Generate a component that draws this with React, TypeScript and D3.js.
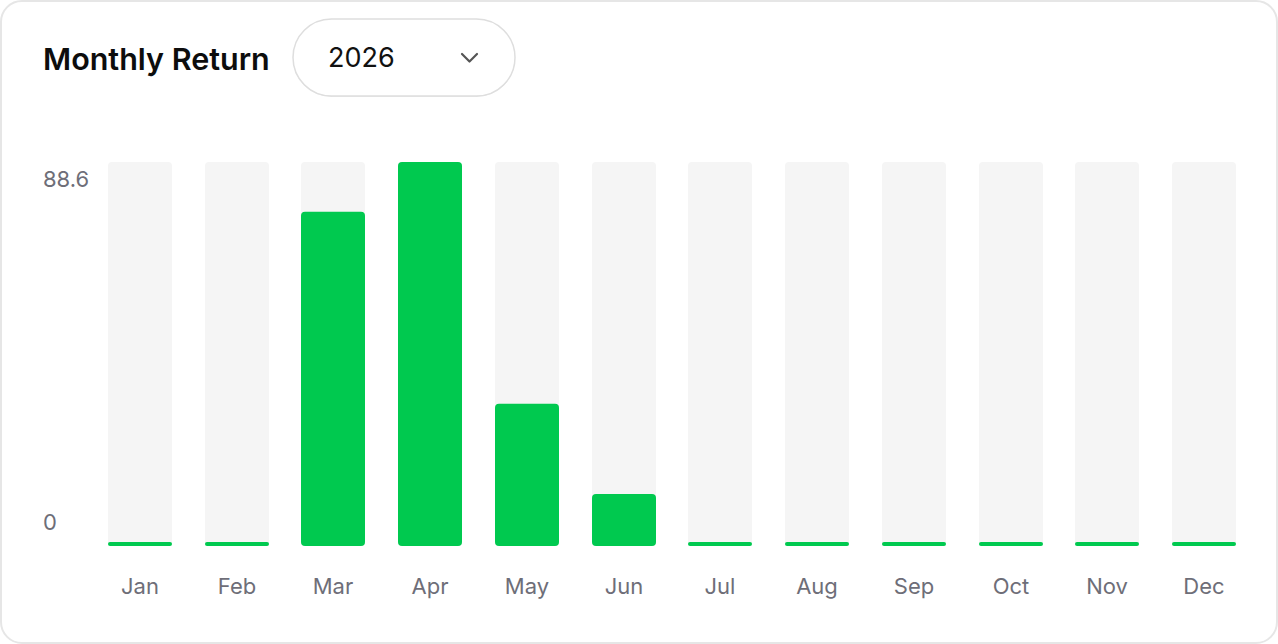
import { useEffect, useRef } from 'react';
import * as d3 from 'd3';

const months = ['Jan', 'Feb', 'Mar', 'Apr', 'May', 'Jun', 'Jul', 'Aug', 'Sep', 'Oct', 'Nov', 'Dec'];
const returns = [0, 0, 77.1, 88.6, 32.8, 12.0, 0, 0, 0, 0, 0, 0];
const yTicks = [0, 88.6];
const title = 'Monthly Return';
const selectedYear = '2026';

const WIDTH = 1278;
const HEIGHT = 644;
const GREEN = '#00c94f';
const TRACK = '#f5f5f5';
const MUTED = '#6e6e78';
const FONT = 'Inter, "Noto Sans", sans-serif';

export default function App() {
  const svgRef = useRef<SVGSVGElement>(null);

  useEffect(() => {
    if (!svgRef.current) return;
    const svg = d3.select(svgRef.current);
    svg.selectAll('*').remove();

    // card
    svg.append('rect')
      .attr('x', 1)
      .attr('y', 1)
      .attr('width', WIDTH - 2)
      .attr('height', HEIGHT - 2)
      .attr('rx', 21)
      .attr('fill', '#fff')
      .attr('stroke', '#e6e6e6')
      .attr('stroke-width', 2);

    // header
    svg.append('text')
      .attr('x', 43)
      .attr('y', 70)
      .attr('font-family', FONT)
      .attr('font-size', 30.5)
      .attr('font-weight', 600)
      .attr('fill', '#0d0d0d')
      .text(title);

    const pill = svg.append('g').attr('transform', 'translate(293,19)');
    pill.append('rect')
      .attr('y', 1)
      .attr('width', 222)
      .attr('height', 77)
      .attr('rx', 38.5)
      .attr('fill', '#e9e9e9');
    pill.append('rect')
      .attr('width', 222)
      .attr('height', 77)
      .attr('rx', 38.5)
      .attr('fill', '#fff')
      .attr('stroke', '#dedede')
      .attr('stroke-width', 1.5);
    pill.append('text')
      .attr('x', 35)
      .attr('y', 48)
      .attr('font-family', FONT)
      .attr('font-size', 27)
      .attr('fill', '#111')
      .text(selectedYear);
    pill.append('path')
      .attr('d', 'M169,35 L176.5,42.5 L184,35')
      .attr('fill', 'none')
      .attr('stroke', '#555')
      .attr('stroke-width', 2.2)
      .attr('stroke-linecap', 'round')
      .attr('stroke-linejoin', 'round');

    // chart
    const x = d3.scaleBand<string>()
      .domain(months)
      .range([108, 1236])
      .paddingInner(0.338)
      .paddingOuter(0);
    const y = d3.scaleLinear()
      .domain([0, d3.max(returns) ?? 1])
      .range([546, 162]);

    const g = svg.append('g');
    const minH = 4;

    g.selectAll('rect.track')
      .data(months)
      .join('rect')
      .attr('class', 'track')
      .attr('x', (d) => Math.round(x(d)!))
      .attr('y', y.range()[1])
      .attr('width', 64)
      .attr('height', y(0) - y.range()[1])
      .attr('rx', 4)
      .attr('fill', TRACK);

    g.selectAll('rect.bar')
      .data(returns)
      .join('rect')
      .attr('class', 'bar')
      .attr('x', (_, i) => Math.round(x(months[i])!))
      .attr('y', (d) => Math.min(y(d), y(0) - minH))
      .attr('width', 64)
      .attr('height', (d) => Math.max(y(0) - y(d), minH))
      .attr('rx', (d) => (y(0) - y(d) > minH ? 4 : 2))
      .attr('fill', GREEN);

    // y labels
    g.selectAll('text.ytick')
      .data(yTicks)
      .join('text')
      .attr('class', 'ytick')
      .attr('x', 43)
      .attr('y', (d) => (d === 0 ? y(d) - 16 : y(d) + 25))
      .attr('font-family', FONT)
      .attr('font-size', 22)
      .attr('fill', MUTED)
      .text((d) => String(d));

    // x labels
    g.selectAll('text.xtick')
      .data(months)
      .join('text')
      .attr('class', 'xtick')
      .attr('x', (d) => Math.round(x(d)!) + 32)
      .attr('y', 594)
      .attr('text-anchor', 'middle')
      .attr('font-family', FONT)
      .attr('font-size', 22)
      .attr('fill', MUTED)
      .text((d) => d);
  }, []);

  return (
    <div style={{ position: 'fixed', left: 0, top: 0, width: WIDTH, height: HEIGHT, background: '#fff' }}>
      <svg ref={svgRef} width={WIDTH} height={HEIGHT} style={{ display: 'block' }} />
    </div>
  );
}
